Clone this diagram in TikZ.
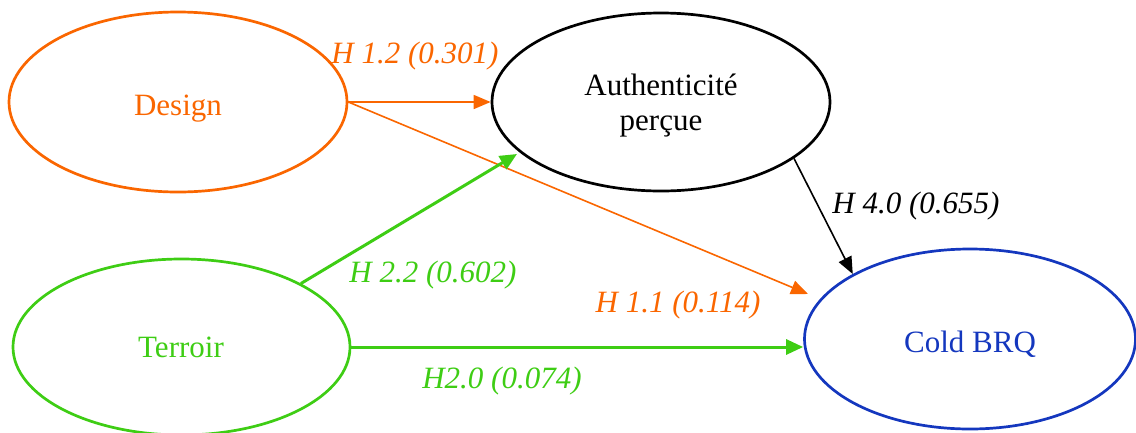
\documentclass[tikz,border=0pt]{standalone}
\usepackage{fontspec}
\setmainfont{Liberation Serif}
\usetikzlibrary{shapes.geometric,arrows.meta}
\definecolor{cOrange}{RGB}{250,102,0}
\definecolor{cGreen}{RGB}{62,205,20}
\definecolor{cBlue}{RGB}{20,55,190}
\begin{document}
\begin{tikzpicture}[x=1pt,y=-1pt,
  oval/.style={ellipse, draw, line width=2.7pt, inner sep=0pt},
  lbl/.style={font=\fontsize{31}{35}\selectfont, anchor=base, inner sep=0pt},
  hyp/.style={font=\fontsize{31}{35}\selectfont\itshape, anchor=base, inner sep=0pt},
  thinarrow/.style={line width=1.6pt, -{Triangle[length=17pt,width=14pt]}},
  thickarrow/.style={line width=3pt, -{Triangle[length=17pt,width=15pt]}}]
\useasboundingbox (0,0) rectangle (1136,432);
% ellipses
\node[oval, cOrange, minimum width=338pt, minimum height=180pt] (Design) at (178,102) {};
\node[oval, black, minimum width=338pt, minimum height=178pt] (Auth) at (661,102) {};
\node[oval, cGreen, minimum width=337pt, minimum height=176pt] (Terroir) at (181.5,347) {};
\node[oval, cBlue, minimum width=331pt, minimum height=180pt] (CBRQ) at (970,339) {};
% texts
\node[lbl, text=cOrange] (tDesign) at (178,115) {Design};
\node[lbl, text=black] (tAuth1) at (661,95) {Authenticité};
\node[lbl, text=black] (tAuth2) at (661,130) {perçue};
\node[lbl, text=cGreen] (tTerroir) at (181,357) {Terroir};
\node[lbl, text=cBlue] (tCBRQ) at (970,352) {Cold BRQ};
% free arrow ends
\coordinate (tip11) at (808,294);
\coordinate (tip22) at (517,154);
% connectors
\draw[thinarrow, cOrange] (Design.east) -- (Design.east -| Auth.west);
\draw[thinarrow, cOrange] (Design.east) -- (tip11);
\draw[thickarrow, cGreen] (Terroir.28) -- (tip22);
\draw[thickarrow, cGreen] (Terroir.east) -- (Terroir.east -| CBRQ.west);
\draw[thinarrow, black] (Auth.-23) -- (CBRQ.151);
% hypothesis labels
\node[hyp, text=cOrange] (h12) at (415,63) {H 1.2 (0.301)};
\node[hyp, text=black] (h40) at (916,213) {H 4.0 (0.655)};
\node[hyp, text=cGreen] (h22) at (433,282) {H 2.2 (0.602)};
\node[hyp, text=cOrange] (h11) at (678,312) {H 1.1 (0.114)};
\node[hyp, text=cGreen] (h20) at (502,388) {H2.0 (0.074)};
\end{tikzpicture}
\end{document}
